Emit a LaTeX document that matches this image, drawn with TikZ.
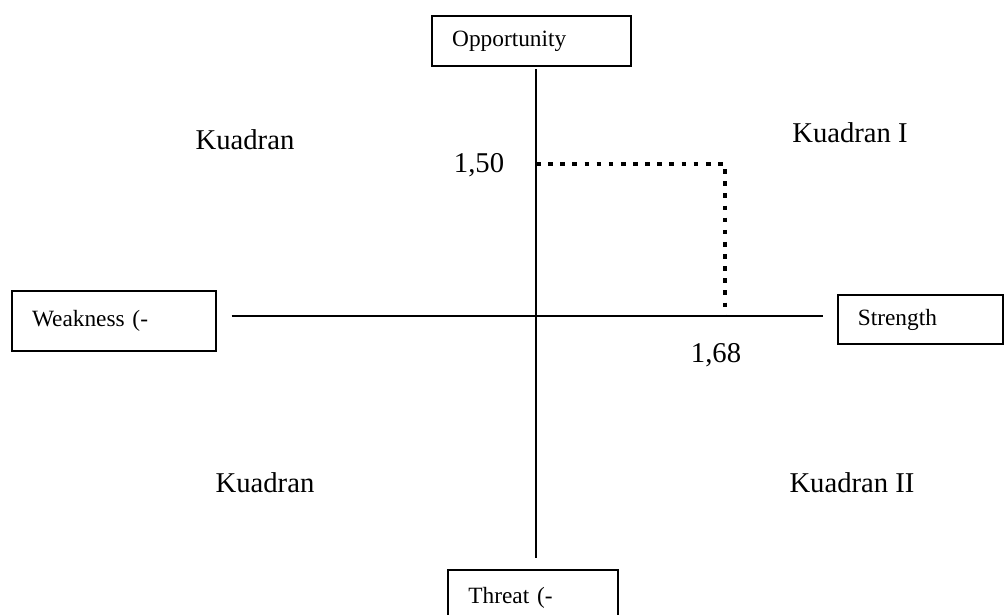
\documentclass[tikz,border=0pt]{standalone}
\usepackage{fontspec}
\setmainfont{Liberation Serif}
\begin{document}
\begin{tikzpicture}[x=0.75pt,y=-0.75pt,
    axisbox/.style={draw,line width=1.4pt,inner xsep=15pt,align=left,font=\fontsize{17.5}{20}\selectfont},
    lbl/.style={font=\fontsize{21.5}{25}\selectfont},
    guide/.style={line width=3.6pt,dash pattern=on 3.5pt off 5.6pt}]
    \useasboundingbox (0,0) rectangle (1006,614);

    \node[axisbox,text width=119pt,minimum height=38pt] (opp) at (531.5,41) {Opportunity};
    \node[axisbox,text width=123pt,minimum height=45pt] (weak) at (114,321) {Weakness (-};
    \node[axisbox,text width=94pt,minimum height=37pt] (str) at (920.5,319.5) {Strength};
    \node[axisbox,text width=97pt,minimum height=42pt] (thr) at (533,598) {Threat (-};

    \coordinate (o) at (536,316);
    \draw[line width=1.1pt,shorten <=1.5pt,shorten >=8pt] (opp.south -| o) -- (thr.north -| o);
    \draw[line width=1.1pt,shorten <=11pt,shorten >=10.5pt] (weak.east |- o) -- (str.west |- o);

    \coordinate (y150) at (536,164);
    \coordinate (corner) at (725,164);
    \coordinate (x168) at (725,316);
    \draw[guide] (y150) -- (corner) -- (x168);

    \node[lbl] (v150) at (479,165) {1,50};
    \node[lbl] (v168) at (716,355) {1,68};

    \node[lbl] (k0) at (245,140) {Kuadran};
    \node[lbl] (k1) at (850,133) {Kuadran I};
    \node[lbl] (k3) at (265,483) {Kuadran};
    \node[lbl] (k2) at (852,483) {Kuadran II};
\end{tikzpicture}
\end{document}
